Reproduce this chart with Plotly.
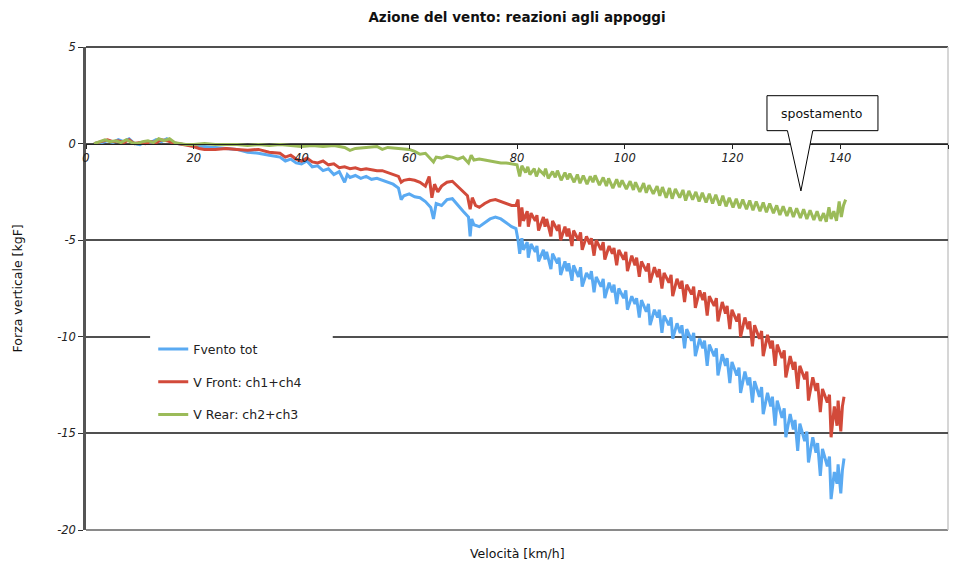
import plotly.graph_objects as go

# ---------------- data: (velocity, force) pairs ----------------
fvento_pts = [
    (1.5,0.0),(3,0.05),(4,0.15),(5,0.05),(6,0.2),(7,0.1),(8,0.25),(9,0.0),(10,-0.05),(11,0.1),(12,0.05),(13,0.2),
    (14,0.1),(15,0.25),(16,0.05),(17,0.0),(18,-0.05),(19,-0.05),(20,-0.1),(22,-0.15),(24,-0.2),(26,-0.25),(28,-0.3),
    (30,-0.45),(32,-0.5),(34,-0.6),(36,-0.7),(37,-0.9),(38,-0.8),(39,-1.0),(40,-1.05),(41,-0.9),(42,-1.2),(43,-1.15),
    (44,-1.4),(45,-1.3),(46,-1.6),(47,-1.45),(48,-2.0),(48.5,-1.6),(49,-1.75),(50,-1.65),(51,-1.8),(52,-1.7),(53,-1.85),
    (54,-1.8),(55,-1.9),(56,-2.0),(57,-2.1),(58,-2.3),(58.5,-2.9),(59,-2.7),(60,-2.6),(61,-2.75),(62,-2.8),(63,-3.0),
    (64,-3.3),(64.5,-3.9),(65,-3.1),(66,-3.2),(67,-2.9),(68,-2.85),(69,-3.2),(70,-3.5),(71,-3.8),(71.3,-4.8),(71.6,-3.9),
    (72,-4.2),(73,-4.3),(74,-4.1),(75,-3.9),(76,-3.8),(77,-3.9),(78,-4.1),(79,-4.3),(79.8,-4.4),
    (80.2,-5.0),(80.5,-5.7),(80.9,-4.9),(81.2,-5.5),(81.9,-5.1),(82.1,-5.9),(82.6,-5.2),(83.4,-5.6),(83.7,-5.3),(84.0,-6.1),
    (84.9,-5.5),(85.2,-6.0),(85.5,-5.6),(86.3,-6.5),(86.6,-5.7),(87.5,-6.2),(87.8,-5.9),(88.1,-6.8),(88.9,-6.1),(89.3,-6.6),
    (89.6,-6.2),(90.2,-7.1),(90.5,-6.3),(91.4,-6.9),(91.8,-6.4),(92.1,-7.4),(92.9,-6.7),(93.5,-7.0),(93.8,-6.6),(94.3,-7.7),
    (94.7,-6.9),(95.6,-7.4),(96.0,-7.0),(96.3,-8.0),(97.1,-7.2),(97.7,-7.7),(98.0,-7.3),(98.5,-8.3),(98.9,-7.5),(99.8,-8.0),
    (100.2,-7.6),(100.5,-8.6),(101.3,-7.9),(101.9,-8.3),(102.2,-8.0),(102.7,-9.0),(103.1,-8.1),(104.0,-8.7),(104.4,-8.3),
    (104.7,-9.4),(105.5,-8.6),(106.1,-9.0),(106.4,-8.6),(106.9,-9.8),(107.3,-8.9),(108.2,-9.4),(108.6,-9.0),(108.9,-10.1),
    (109.7,-9.3),(110.3,-9.8),(110.6,-9.4),(111.1,-10.6),(111.5,-9.6),(112.4,-10.2),(112.8,-9.8),(113.1,-11.0),(113.9,-10.1),
    (114.5,-10.6),(114.8,-10.2),(115.3,-11.5),(115.7,-10.4),(116.6,-11.0),(117.0,-10.6),(117.3,-12.0),(118.1,-10.9),
    (118.7,-11.5),(119.0,-11.1),(119.5,-12.4),(119.9,-11.3),(120.8,-12.0),(121.2,-11.6),(121.5,-12.9),(122.3,-11.8),
    (122.9,-12.5),(123.2,-12.1),(123.7,-13.4),(124.1,-12.3),(125.0,-13.1),(125.4,-12.6),(125.7,-14.0),(126.5,-12.9),
    (127.1,-13.6),(127.4,-13.1),(127.9,-14.6),(128.3,-13.3),(129.2,-14.2),(129.6,-13.7),(129.9,-15.2),(130.7,-14.0),
    (131.3,-14.8),(131.6,-14.3),(132.1,-15.9),(132.5,-14.5),(133.4,-15.4),(133.8,-14.9),(134.1,-16.5),(134.9,-15.2),
    (135.5,-16.0),(135.8,-15.5),(136.3,-17.2),(136.7,-15.8),(137.6,-16.7),(138.0,-16.2),(138.3,-18.4),(138.9,-17.0),
    (139.4,-17.6),(139.6,-16.6),(140.1,-18.1),(140.4,-16.9),(140.7,-16.3),
]

front_pts = [
    (1.5,0.0),(3,0.1),(4,0.2),(5,0.1),(6,0.15),(7,0.05),(8,0.2),(9,0.0),(10,0.05),(11,0.0),(12,0.1),(13,0.05),(14,0.2),
    (15,0.15),(16,0.05),(17,0.0),(18,-0.05),(19,-0.1),(20,-0.15),(21,-0.25),(22,-0.3),(24,-0.3),(26,-0.25),(28,-0.3),
    (30,-0.35),(32,-0.3),(34,-0.45),(36,-0.5),(37,-0.7),(38,-0.6),(39,-0.8),(40,-0.9),(41,-0.75),(42,-0.95),(43,-1.0),
    (44,-0.9),(45,-1.1),(46,-1.05),(47,-1.25),(48,-1.2),(49,-1.3),(50,-1.25),(51,-1.35),(52,-1.3),(53,-1.35),(54,-1.4),
    (55,-1.4),(56,-1.5),(57,-1.6),(58,-1.7),(58.5,-2.0),(59,-1.9),(60,-1.85),(61,-1.9),(62,-2.0),(63,-2.2),(63.7,-1.7),
    (64.2,-2.8),(64.7,-2.1),(65.3,-2.5),(66,-2.2),(67,-2.0),(68,-1.95),(69,-2.2),(70,-2.5),(70.8,-2.7),(71.3,-3.4),
    (71.7,-2.8),(72.3,-3.2),(73,-3.3),(74,-3.1),(75,-2.95),(76,-2.9),(77,-3.0),(78,-3.1),(79,-3.2),(79.8,-3.2),
    (80.2,-2.9),(80.5,-4.3),(80.9,-3.3),(81.2,-4.0),(81.9,-3.5),(82.1,-4.3),(82.6,-3.6),(83.4,-4.0),(83.7,-3.7),(84.0,-4.5),
    (84.9,-3.8),(85.2,-4.3),(85.5,-3.9),(86.3,-4.8),(86.6,-4.0),(87.5,-4.5),(87.8,-4.2),(88.1,-5.0),(88.9,-4.3),(89.3,-4.8),
    (89.6,-4.4),(90.2,-5.3),(90.5,-4.5),(91.4,-5.0),(91.8,-4.6),(92.1,-5.5),(92.9,-4.8),(93.5,-5.2),(93.8,-4.9),(94.3,-5.8),
    (94.7,-5.0),(95.6,-5.5),(96.0,-5.1),(96.3,-6.0),(97.1,-5.3),(97.7,-5.7),(98.0,-5.4),(98.5,-6.3),(98.9,-5.5),(99.8,-6.0),
    (100.2,-5.6),(100.5,-6.6),(101.3,-5.8),(101.9,-6.3),(102.2,-5.9),(102.7,-6.9),(103.1,-6.1),(104.0,-6.6),(104.4,-6.2),
    (104.7,-7.2),(105.5,-6.4),(106.1,-6.9),(106.4,-6.5),(106.9,-7.5),(107.3,-6.7),(108.2,-7.2),(108.6,-6.8),(108.9,-7.9),
    (109.7,-7.0),(110.3,-7.5),(110.6,-7.1),(111.1,-8.2),(111.5,-7.3),(112.4,-7.8),(112.8,-7.4),(113.1,-8.5),(113.9,-7.6),
    (114.5,-8.1),(114.8,-7.7),(115.3,-8.9),(115.7,-7.9),(116.6,-8.4),(117.0,-8.0),(117.3,-9.2),(118.1,-8.2),(118.7,-8.8),
    (119.0,-8.4),(119.5,-9.6),(119.9,-8.6),(120.8,-9.2),(121.2,-8.8),(121.5,-10.0),(122.3,-9.0),(122.9,-9.6),(123.2,-9.2),
    (123.7,-10.5),(124.1,-9.4),(125.0,-10.1),(125.4,-9.7),(125.7,-11.0),(126.5,-9.9),(127.1,-10.6),(127.4,-10.2),
    (127.9,-11.5),(128.3,-10.4),(129.2,-11.1),(129.6,-10.7),(129.9,-12.1),(130.7,-11.0),(131.3,-11.7),(131.6,-11.3),
    (132.1,-12.7),(132.5,-11.5),(133.4,-12.2),(133.8,-11.8),(134.1,-13.3),(134.9,-12.1),(135.5,-12.8),(135.8,-12.4),
    (136.3,-13.9),(136.7,-12.7),(137.6,-13.4),(138.0,-13.0),(138.3,-15.2),(138.9,-13.6),(139.4,-14.6),(139.6,-13.3),
    (140.1,-14.9),(140.4,-13.6),(140.7,-13.1),
]

rear_pts = [
    (1.5,0.0),(2.5,0.1),(3.5,0.2),(4.5,0.1),(5.5,0.15),(6.5,0.05),(7.5,0.2),(8.5,0.05),(9.5,0.0),(10.5,0.1),(11.5,0.15),
    (12.5,0.05),(13.5,0.25),(14.5,0.15),(15.5,0.25),(16.5,0.05),(17.5,0.0),(18.5,-0.05),(20,-0.05),(22,0.0),(24,-0.05),
    (26,-0.05),(28,-0.05),(30,-0.1),(32,-0.05),(34,-0.1),(36,-0.05),(38,-0.1),(40,-0.15),(42,-0.1),(44,-0.15),(46,-0.1),
    (48,-0.2),(49,-0.35),(50,-0.25),(52,-0.2),(54,-0.15),(55,-0.3),(56,-0.2),(58,-0.25),(60,-0.3),(61,-0.4),(62,-0.55),
    (63,-0.5),(64,-0.8),(64.5,-0.95),(65,-0.7),(66,-0.75),(67,-0.65),(68,-0.7),(69,-0.8),(70,-0.7),(71,-1.0),(71.5,-0.6),
    (72,-0.85),(73,-0.8),(74,-0.85),(75,-0.9),(76,-0.95),(77,-1.0),(78,-1.0),(79,-1.05),
    (80,-1.1),(80.5,-1.7),(80.9,-1.15),(81.6,-1.5),(82.0,-1.2),(82.4,-1.6),(83.2,-1.3),(83.6,-1.7),(84.1,-1.35),(85.0,-1.6),
    (85.3,-1.3),(85.8,-1.8),(86.6,-1.45),(87.1,-1.75),(87.5,-1.4),(88.2,-1.9),(88.9,-1.5),(89.4,-1.85),(89.8,-1.55),
    (90.6,-2.0),(91.2,-1.6),(91.7,-2.05),(92.3,-1.65),(93.0,-2.1),(93.6,-1.7),(94.1,-2.0),(94.5,-1.65),(95.3,-2.15),
    (96.0,-1.75),(96.6,-2.2),(97.0,-1.8),(97.8,-2.3),(98.5,-1.85),(99.0,-2.25),(99.5,-1.9),(100.3,-2.35),(101.0,-1.95),
    (101.6,-2.4),(102.0,-2.0),(102.8,-2.5),(103.5,-2.05),(104.0,-2.55),(104.5,-2.15),(105.3,-2.6),(106.0,-2.2),(106.5,-2.7),
    (107.0,-2.25),(107.7,-2.8),(108.3,-2.3),(108.8,-2.85),(109.4,-2.35),(110.2,-2.8),(110.8,-2.4),(111.3,-2.95),(111.9,-2.45),
    (112.6,-2.9),(113.2,-2.5),(113.8,-3.0),(114.4,-2.55),(115.1,-3.05),(115.7,-2.6),(116.3,-3.1),(116.9,-2.65),(117.6,-3.2),
    (118.2,-2.7),(118.8,-3.25),(119.4,-2.8),(120.1,-3.3),(120.7,-2.85),(121.3,-3.35),(121.9,-2.9),(122.6,-3.4),(123.2,-2.95),
    (123.8,-3.45),(124.4,-3.0),(125.1,-3.5),(125.7,-3.05),(126.3,-3.55),(126.9,-3.1),(127.6,-3.6),(128.2,-3.2),(128.8,-3.7),
    (129.4,-3.25),(130.1,-3.75),(130.7,-3.3),(131.3,-3.8),(131.9,-3.35),(132.6,-3.85),(133.2,-3.4),(133.8,-3.9),(134.4,-3.45),
    (135.1,-3.95),(135.7,-3.5),(136.3,-4.0),(136.9,-3.6),(137.4,-4.05),(137.9,-3.3),(138.3,-3.9),(138.8,-3.5),(139.3,-4.0),
    (139.8,-3.0),(140.2,-3.8),(140.6,-3.2),(141.0,-2.9),
]

series_names = ["Fvento tot", "V Front: ch1+ch4", "V Rear: ch2+ch3"]
series_colors = ["#5AAAF2", "#D24A3A", "#9BBB59"]

x_ticks = [0, 20, 40, 60, 80, 100, 120, 140, 160]
y_ticks = [5, 0, -5, -10, -15, -20]

title_text = "Azione del vento: reazioni agli appoggi"
x_title = "Velocità [km/h]"
y_title = "Forza verticale [kgF]"
callout_text = "spostamento"

# ---------------- figure ----------------
FONT = "DejaVu Sans"
fig = go.Figure()

for i, pts in enumerate([fvento_pts, front_pts, rear_pts]):
    xs = [p[0] for p in pts]
    ys = [p[1] for p in pts]
    fig.add_trace(go.Scatter(
        x=xs, y=ys, mode="lines", name=series_names[i],
        line=dict(color=series_colors[i], width=3),
        legendgroup="g%d" % i,
    ))

# white patch behind legend (hides gridline)
fig.add_shape(type="rect", xref="x", yref="y", x0=11.9, x1=45.8, y0=-14.8, y1=-9.6,
              fillcolor="white", line=dict(width=0), layer="between")

# plot-area frame: top dark line, bottom grey line, right light grey line
fig.add_shape(type="line", xref="paper", yref="paper", x0=0, x1=1, y0=1, y1=1,
              line=dict(color="#505050", width=1.8), layer="below")
fig.add_shape(type="line", xref="paper", yref="paper", x0=0, x1=1, y0=0, y1=0,
              line=dict(color="#8A8A8A", width=1.8), layer="below")
fig.add_shape(type="line", xref="paper", yref="paper", x0=1, x1=1, y0=0, y1=1,
              line=dict(color="#C8C8C8", width=1.5), layer="below")

# callout
fig.add_shape(type="path", xref="x", yref="y",
              path="M 126.4,2.48 L 147,2.48 L 147,0.67 L 134.9,0.67 L 132.7,-2.45 L 130.2,0.67 L 126.4,0.67 Z",
              fillcolor="white", line=dict(color="black", width=1), layer="above")
fig.add_annotation(x=136.7, y=1.58, xref="x", yref="y", text=callout_text, showarrow=False,
                   font=dict(family=FONT, size=12.5, color="#111"))

# axis titles
fig.add_annotation(x=0.5, y=-0.048, xref="paper", yref="paper", text=x_title, showarrow=False,
                   font=dict(family=FONT, size=12.5, color="#111"), yanchor="middle")
fig.add_annotation(x=-0.079, y=0.5, xref="paper", yref="paper", text=y_title, showarrow=False,
                   textangle=-90, font=dict(family=FONT, size=12.5, color="#111"), xanchor="center")

fig.update_layout(
    width=949, height=558,
    margin=dict(l=78, r=9, t=39, b=36),
    paper_bgcolor="white", plot_bgcolor="white",
    title=dict(text="<b>" + title_text + "</b>", x=0.5, xref="paper", y=1 - 9 / 558,
               yref="container", yanchor="middle", xanchor="center",
               font=dict(family=FONT, size=13.5, color="#111")),
    showlegend=True,
    legend=dict(x=0.078, y=0.405, xanchor="left", yanchor="top", bgcolor="rgba(0,0,0,0)",
                font=dict(family=FONT, size=12.5, color="#222"), traceorder="grouped",
                tracegroupgap=13.5, itemwidth=30),
    xaxis=dict(range=[0, 160], tickvals=x_ticks, ticktext=[str(v) for v in x_ticks],
               anchor="free", position=0.8, showline=True, linecolor="#222", linewidth=1,
               ticks="outside", ticklen=4, tickcolor="#222", showgrid=False, zeroline=False,
               tickfont=dict(family=FONT, size=11.5, color="#222", style="italic")),
    yaxis=dict(range=[-20, 5], tickvals=y_ticks, ticktext=[str(v) for v in y_ticks],
               showline=True, linecolor="#555", linewidth=2.5, ticks="outside", ticklen=5,
               tickcolor="#333", showgrid=True, gridcolor="#505050", gridwidth=1.6,
               zeroline=False, tickfont=dict(family=FONT, size=11.5, color="#222", style="italic")),
)

fig.write_html("out.html")
